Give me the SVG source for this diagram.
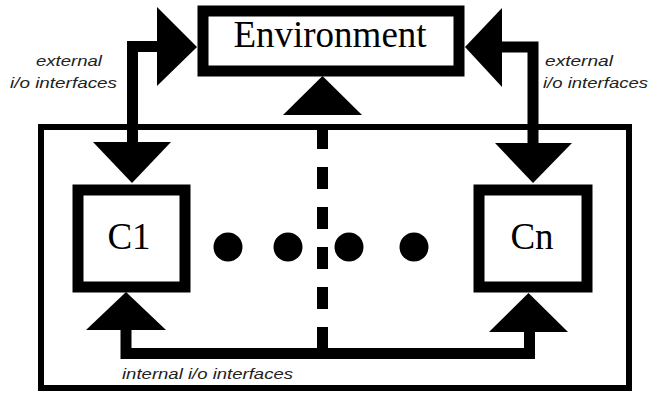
<svg xmlns="http://www.w3.org/2000/svg" width="650" height="394" viewBox="0 0 650 394">
  <style>
    .box { fill: #fff; stroke: #000; stroke-width: 11; }
    .frame { fill: none; stroke: #000; stroke-width: 6; }
    .wire { fill: none; stroke: #000; stroke-width: 11; stroke-linejoin: miter; }
    .dash { fill: none; stroke: #000; stroke-width: 11; stroke-dasharray: 22 18; }
    .head { fill: #000; }
    .dot { fill: #000; }
    .big { font-family: "Liberation Serif", "Times New Roman", serif; font-size: 37px; fill: #000; text-anchor: middle; }
    .lbl { font-family: "Liberation Sans", Arial, sans-serif; font-style: italic; font-size: 15px; fill: #222; }
  </style>

  <rect x="0" y="0" width="650" height="394" fill="#fff"/>

  <!-- system boundary -->
  <rect class="frame" x="41" y="127" width="588" height="261"/>

  <g id="connectors">
    <!-- external i/o, left -->
    <path class="wire" d="M158,46.5 H132.5 V143"/>
    <polygon class="head" points="157,7 197,47 157,86"/>
    <polygon class="head" points="93,142 171,142 132,183"/>
    <!-- external i/o, right -->
    <path class="wire" d="M501,47 H533 V144"/>
    <polygon class="head" points="502,8 465,47 502,87"/>
    <polygon class="head" points="495,143 572,143 533,183"/>
    <!-- shared path up to the environment -->
    <polygon class="head" points="283,115 362,115 322.5,76"/>
    <line class="dash" x1="322.5" y1="127" x2="322.5" y2="353"/>
    <!-- internal i/o bus -->
    <path class="wire" d="M126,329 V353.5 H529.5 V331"/>
    <polygon class="head" points="86,330 166,330 126,292"/>
    <polygon class="head" points="489,332 568,332 528.5,293"/>
  </g>

  <g id="environment">
    <rect class="box" x="203" y="11" width="256" height="60" stroke-width="12"/>
    <text class="big" x="330" y="47">Environment</text>
  </g>

  <g id="c1">
    <rect class="box" x="78" y="190" width="107" height="97" stroke-width="10"/>
    <text class="big" x="129" y="249">C1</text>
  </g>

  <g id="cn">
    <rect class="box" x="479" y="190" width="108" height="97" stroke-width="10"/>
    <text class="big" x="532" y="249">Cn</text>
  </g>

  <g id="ellipsis">
    <circle class="dot" cx="228" cy="247" r="14.5"/>
    <circle class="dot" cx="288" cy="247" r="14.5"/>
    <circle class="dot" cx="349" cy="247" r="14.5"/>
    <circle class="dot" cx="414" cy="247" r="14.5"/>
  </g>

  <g id="labels">
    <text class="lbl" x="36" y="66" textLength="66" lengthAdjust="spacingAndGlyphs">external</text>
    <text class="lbl" x="10" y="88" textLength="107" lengthAdjust="spacingAndGlyphs">i/o interfaces</text>
    <text class="lbl" x="545" y="66" textLength="68" lengthAdjust="spacingAndGlyphs">external</text>
    <text class="lbl" x="543" y="88" textLength="105" lengthAdjust="spacingAndGlyphs">i/o interfaces</text>
    <text class="lbl" x="122" y="379" textLength="171" lengthAdjust="spacingAndGlyphs">internal i/o interfaces</text>
  </g>
</svg>
